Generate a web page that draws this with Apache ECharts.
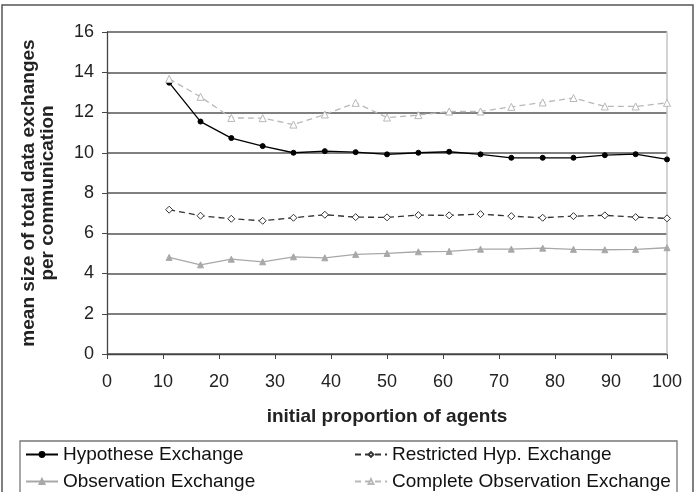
<!DOCTYPE html>
<html lang="en">
<head>
    <meta charset="UTF-8">
    <title>mean size of total data exchanges</title>
    <style>
        html,body{
            width: 100%;
            height: 100%;
            margin: 0;
            padding: 0;
            background: #fff;
        }
        #chart{
            width: 698px;
            height: 492px;
        }
    </style>
</head>
<body>
    <div id="chart"></div>
    <script src="https://cdn.jsdelivr.net/npm/echarts@6/dist/echarts.min.js"></script>
    <script>
        // initial proportion of agents (x positions of the points)
        var proportions = [11.1, 16.7, 22.2, 27.8, 33.3, 38.9, 44.4, 50, 55.6, 61.1, 66.7, 72.2, 77.8, 83.3, 88.9, 94.4, 100];
        var hypotheseExchange = [13.48, 11.55, 10.73, 10.33, 10.0, 10.08, 10.03, 9.92, 10.0, 10.05, 9.92, 9.75, 9.75, 9.75, 9.88, 9.93, 9.67];
        var restrictedHypExchange = [7.17, 6.87, 6.72, 6.62, 6.77, 6.92, 6.80, 6.79, 6.90, 6.89, 6.95, 6.85, 6.77, 6.85, 6.89, 6.80, 6.74];
        var observationExchange = [4.80, 4.43, 4.71, 4.58, 4.83, 4.78, 4.95, 5.0, 5.08, 5.10, 5.21, 5.21, 5.26, 5.20, 5.18, 5.20, 5.28];
        var completeObsExchange = [13.67, 12.78, 11.73, 11.72, 11.4, 11.9, 12.48, 11.75, 11.87, 12.05, 12.05, 12.28, 12.5, 12.72, 12.3, 12.3, 12.48];

        var font = 'Liberation Sans, Arial, sans-serif';

        function pairs(values){
            return values.map(function (v, i) {
                return [proportions[i], v];
            });
        }

        function makeSeries(name, values, color, dashed, symbol, size, hollow){
            return {
                name: name,
                type: 'line',
                data: pairs(values),
                symbol: symbol,
                symbolSize: size,
                showSymbol: true,
                animation: false,
                lineStyle: {
                    color: color,
                    width: 1.3,
                    type: dashed ? [6, 4] : 'solid'
                },
                itemStyle: {
                    color: hollow ? '#fff' : color,
                    borderColor: color,
                    borderWidth: 1
                }
            };
        }

        // one legend per entry so the two columns line up like the original
        function makeLegend(name, left, top){
            return {
                left: left,
                top: top,
                itemWidth: 32,
                itemHeight: 6,
                itemGap: 0,
                padding: 0,
                textStyle: { fontSize: 19, color: '#111', fontFamily: font },
                data: [name]
            };
        }

        var chart = echarts.init(document.getElementById('chart'));
        var option = {
            backgroundColor: '#fff',
            animation: false,
            textStyle: { fontFamily: font },
            grid: {
                left: 107,
                right: 31,
                top: 32,
                bottom: 138
            },
            xAxis: {
                type: 'value',
                min: 0,
                max: 100,
                interval: 10,
                name: 'initial proportion of agents',
                nameLocation: 'middle',
                nameGap: 53,
                nameTextStyle: { fontSize: 19, fontWeight: 'bold', color: '#222', fontFamily: font },
                axisLine: { lineStyle: { color: '#444', width: 1.3 } },
                axisTick: { show: true, length: 5, lineStyle: { color: '#444' } },
                axisLabel: { fontSize: 18, color: '#222', margin: 19, fontFamily: font },
                splitLine: { show: false }
            },
            yAxis: [{
                type: 'value',
                min: 0,
                max: 16,
                interval: 2,
                name: 'mean size of total data exchanges\nper communication',
                nameLocation: 'middle',
                nameGap: 50,
                nameTextStyle: { fontSize: 19, fontWeight: 'bold', color: '#222', lineHeight: 19, fontFamily: font },
                axisLine: { show: true, lineStyle: { color: '#444', width: 1.3 } },
                axisTick: { show: true, length: 5, lineStyle: { color: '#444' } },
                axisLabel: { fontSize: 18, color: '#222', margin: 13, fontFamily: font },
                splitLine: { show: true, lineStyle: { color: '#555', width: 1.5 } }
            }, {
                type: 'value',
                min: 0,
                max: 16,
                interval: 2,
                position: 'right',
                axisLine: { show: true, lineStyle: { color: '#c4c4c4', width: 1.5 } },
                axisTick: { show: false },
                axisLabel: { show: false },
                splitLine: { show: false }
            }],
            legend: [
                makeLegend('Hypothese Exchange', 25, 445),
                makeLegend('Observation Exchange', 25, 472),
                makeLegend('Restricted Hyp. Exchange', 354, 445),
                makeLegend('Complete Observation Exchange', 354, 472)
            ],
            graphic: [{
                // outer frame
                type: 'rect',
                shape: { x: 2, y: 5, width: 691, height: 500 },
                style: { fill: 'none', stroke: '#555', lineWidth: 1.5 },
                silent: true
            }, {
                // legend frame
                type: 'rect',
                shape: { x: 20, y: 441, width: 657, height: 60 },
                style: { fill: 'none', stroke: '#777', lineWidth: 1.3 },
                silent: true
            }],
            series: [
                makeSeries('Hypothese Exchange', hypotheseExchange, '#000', false, 'circle', 5, false),
                makeSeries('Restricted Hyp. Exchange', restrictedHypExchange, '#333', true, 'diamond', 7, true),
                makeSeries('Observation Exchange', observationExchange, '#a8a8a8', false, 'triangle', 6, false),
                makeSeries('Complete Observation Exchange', completeObsExchange, '#b8b8b8', true, 'triangle', 7, true)
            ]
        };
        chart.setOption(option);
    </script>
</body>
</html>
